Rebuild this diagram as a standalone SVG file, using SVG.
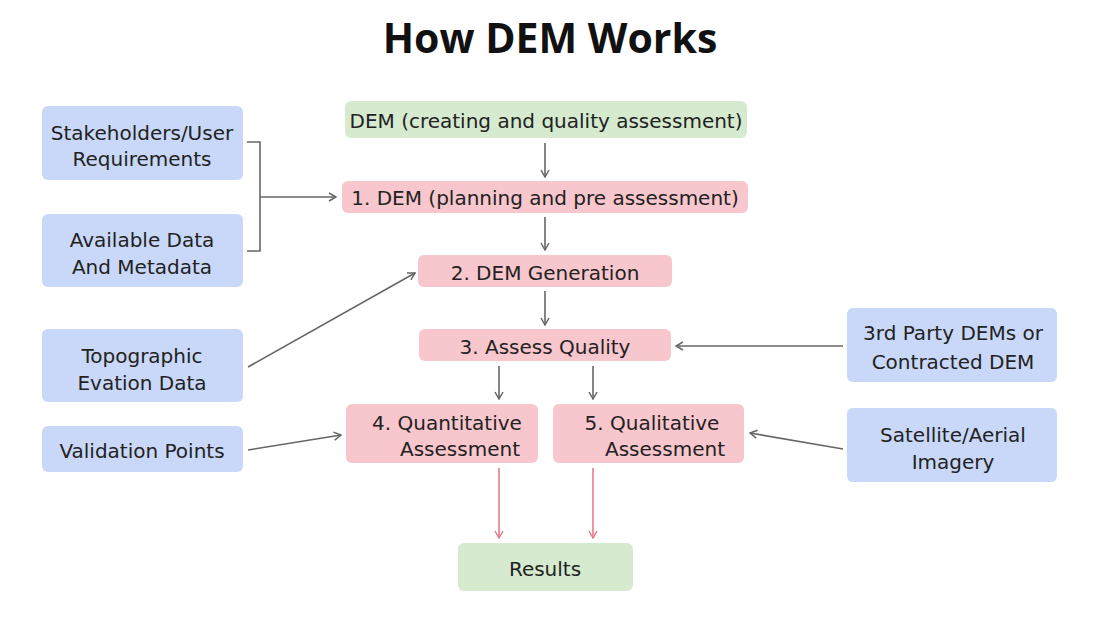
<svg xmlns="http://www.w3.org/2000/svg" width="1114" height="626" viewBox="0 0 1114 626">
<defs>
<style>
.t{font-family:"DejaVu Sans","Open Sans",sans-serif;font-size:20px;fill:#222;text-anchor:middle}
.title{font-family:"Open Sans","DejaVu Sans",sans-serif;font-size:41px;font-weight:bold;fill:#111;text-anchor:middle}
.blue{fill:#c9d8f8}
.pink{fill:#f8c6cd}
.green{fill:#d5eacf}
.c{fill:none;stroke:#666;stroke-width:1.6}
.r{fill:none;stroke:#e37d8c;stroke-width:1.6}
</style>
<marker id="ag" viewBox="0 0 10 10" refX="9" refY="5" markerWidth="10" markerHeight="10" markerUnits="userSpaceOnUse" orient="auto">
<path d="M2,1 L9,5 L2,9" fill="none" stroke="#666" stroke-width="1.5"/>
</marker>
<marker id="ar" viewBox="0 0 10 10" refX="9" refY="5" markerWidth="10" markerHeight="10" markerUnits="userSpaceOnUse" orient="auto">
<path d="M2,1 L9,5 L2,9" fill="none" stroke="#e37d8c" stroke-width="1.5"/>
</marker>
</defs>
<rect width="1114" height="626" fill="#fff"/>
<text class="title" x="550" y="53">How DEM Works</text>

<g id="connectors">
<path class="c" d="M247,142 H260 V251 H247"/>
<path class="c" d="M260,197 H336" marker-end="url(#ag)"/>
<path class="c" d="M545,143 V177" marker-end="url(#ag)"/>
<path class="c" d="M545,217 V250" marker-end="url(#ag)"/>
<path class="c" d="M545,291 V325" marker-end="url(#ag)"/>
<path class="c" d="M499,366 V399" marker-end="url(#ag)"/>
<path class="c" d="M593,366 V399" marker-end="url(#ag)"/>
<path class="c" d="M248,367 L415,273" marker-end="url(#ag)"/>
<path class="c" d="M248,450 L341,435" marker-end="url(#ag)"/>
<path class="c" d="M843,346 H676" marker-end="url(#ag)"/>
<path class="c" d="M843,449 L750,433" marker-end="url(#ag)"/>
<path class="r" d="M499,468 V538" marker-end="url(#ar)"/>
<path class="r" d="M593,468 V538" marker-end="url(#ar)"/>
</g>

<g id="stakeholders"><rect class="blue" x="42" y="106" width="201" height="74" rx="6"/><text class="t" x="142" y="140">Stakeholders/User</text><text class="t" x="142" y="166">Requirements</text></g>
<g id="available"><rect class="blue" x="42" y="214" width="201" height="73" rx="6"/><text class="t" x="142" y="247">Available Data</text><text class="t" x="142" y="274">And Metadata</text></g>
<g id="topographic"><rect class="blue" x="42" y="329" width="201" height="73" rx="6"/><text class="t" x="142" y="363">Topographic</text><text class="t" x="142" y="390">Evation Data</text></g>
<g id="validation"><rect class="blue" x="42" y="426" width="201" height="46" rx="6"/><text class="t" x="142" y="458">Validation Points</text></g>
<g id="thirdparty"><rect class="blue" x="847" y="308" width="210" height="74" rx="6"/><text class="t" x="953" y="340">3rd Party DEMs or</text><text class="t" x="953" y="369">Contracted DEM</text></g>
<g id="satellite"><rect class="blue" x="847" y="408" width="210" height="74" rx="6"/><text class="t" x="953" y="442">Satellite/Aerial</text><text class="t" x="953" y="469">Imagery</text></g>

<g id="dem"><rect class="green" x="345" y="101" width="402" height="37" rx="6"/><text class="t" x="546" y="128">DEM (creating and quality assessment)</text></g>
<g id="step1"><rect class="pink" x="342" y="181" width="406" height="32" rx="6"/><text class="t" x="545" y="205">1. DEM (planning and pre assessment)</text></g>
<g id="step2"><rect class="pink" x="418" y="255" width="254" height="32" rx="6"/><text class="t" x="545" y="280">2. DEM Generation</text></g>
<g id="step3"><rect class="pink" x="419" y="329" width="252" height="32" rx="6"/><text class="t" x="545" y="354">3. Assess Quality</text></g>
<g id="step4"><rect class="pink" x="346" y="404" width="192" height="59" rx="6"/><text class="t" x="447" y="430">4. Quantitative</text><text class="t" x="460" y="456">Assessment</text></g>
<g id="step5"><rect class="pink" x="553" y="404" width="191" height="59" rx="6"/><text class="t" x="652" y="430">5. Qualitative</text><text class="t" x="665" y="456">Assessment</text></g>
<g id="results"><rect class="green" x="458" y="543" width="175" height="48" rx="6"/><text class="t" x="545" y="576">Results</text></g>
</svg>
